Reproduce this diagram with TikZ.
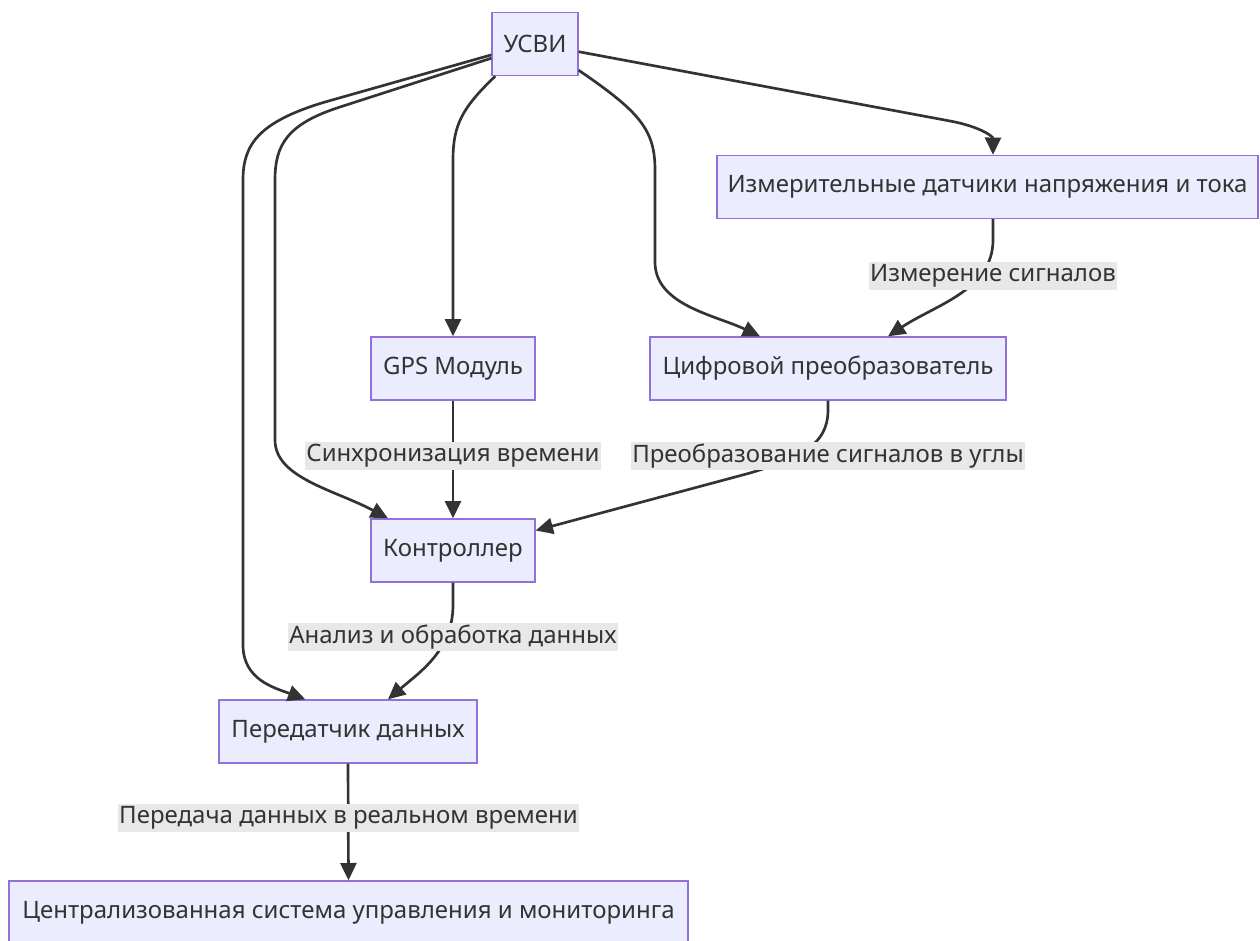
\documentclass[tikz,border=0pt]{standalone}
\usepackage{fontspec}
\setmainfont{Noto Sans}
\usetikzlibrary{arrows.meta,calc}
\definecolor{nodefill}{HTML}{ECECFF}
\definecolor{nodeline}{HTML}{9370DB}
\definecolor{edgecol}{HTML}{333333}
\definecolor{lblbg}{HTML}{E8E8E8}
\definecolor{txtcol}{HTML}{333333}
\begin{document}
\begin{tikzpicture}[x=0.75pt,y=-0.75pt,
  box/.style={draw=nodeline, fill=nodefill, line width=1pt, inner sep=0pt,
    minimum height=47.25pt, text=txtcol, font=\fontsize{18}{20}\selectfont},
  lbl/.style={fill=lblbg, inner sep=1pt, minimum height=21pt, text=txtcol, font=\fontsize{18}{20}\selectfont},
  edge/.style={draw=edgecol, line width=2pt, -{Triangle[length=13pt,width=12pt]}}]
\useasboundingbox (0,0) rectangle (1260,940);
\fill[white] (0,0) rectangle (1260,940);

\node[box, minimum width=64.5pt]  (usvi) at (535,44)     {УСВИ};
\node[box, minimum width=405.75pt] (izm) at (987.5,187)  {Измерительные датчики напряжения и тока};
\node[box, minimum width=123pt]   (gps)  at (453,368.5)  {GPS Модуль};
\node[box, minimum width=267pt]   (cif)  at (828,368.5)  {Цифровой преобразователь};
\node[box, minimum width=123pt]   (ctrl) at (453,550.5)  {Контроллер};
\node[box, minimum width=193.5pt] (tx)   at (348,731.5)  {Передатчик данных};
\node[box, minimum width=509.25pt] (cent) at (348.5,912.5) {Централизованная система управления и мониторинга};

% edges
\draw[edge] (usvi.-10) -- (950,121) .. controls (982,127) and (993,137) .. ([xshift=4.1pt]izm.north);
\draw[edge] (usvi.-31) .. controls (640,112) and (655,130) .. (655,170) -- (655,262)
  .. controls (655,305) and (715,315) .. ([xshift=-51pt]cif.north);
\draw[edge] (usvi.-141) .. controls (462,108) and (453,125) .. (453,160) -- (gps.north);
\draw[edge] (usvi.198) -- (340,107) .. controls (287,124) and (275,145) .. (275,180) -- (275,440)
  .. controls (275,478) and (335,490) .. ([xshift=-48.75pt]ctrl.north);
\draw[edge] (usvi.194) -- (325,102) .. controls (258,122) and (243,145) .. (243,180) -- (243,645)
  .. controls (243,680) and (275,688) .. ([xshift=-32pt]tx.north);
\draw[edge] ([xshift=4.1pt]izm.south) -- (993,240) .. controls (993,290) and (935,305) .. ([xshift=45pt]cif.north);
\draw[edge] (gps.south) -- (ctrl.north);
\draw[edge] (cif.south) -- (828,410) .. controls (828,445) and (800,458) .. (750,473) -- ([yshift=15pt]ctrl.east);
\draw[edge] (ctrl.south) -- (453,605) .. controls (453,650) and (420,672) .. ([xshift=30pt]tx.north);
\draw[edge] (tx.south) -- (cent.north);

% labels
\node[lbl] (l1) at (993,276) {Измерение сигналов};
\node[lbl] (l2) at (453,456) {Синхронизация времени};
\node[lbl] (l3) at (828,456) {Преобразование сигналов в углы};
\node[lbl] (l4) at (453,637) {Анализ и обработка данных};
\node[lbl] (l5) at (348.5,818) {Передача данных в реальном времени};
\end{tikzpicture}
\end{document}
